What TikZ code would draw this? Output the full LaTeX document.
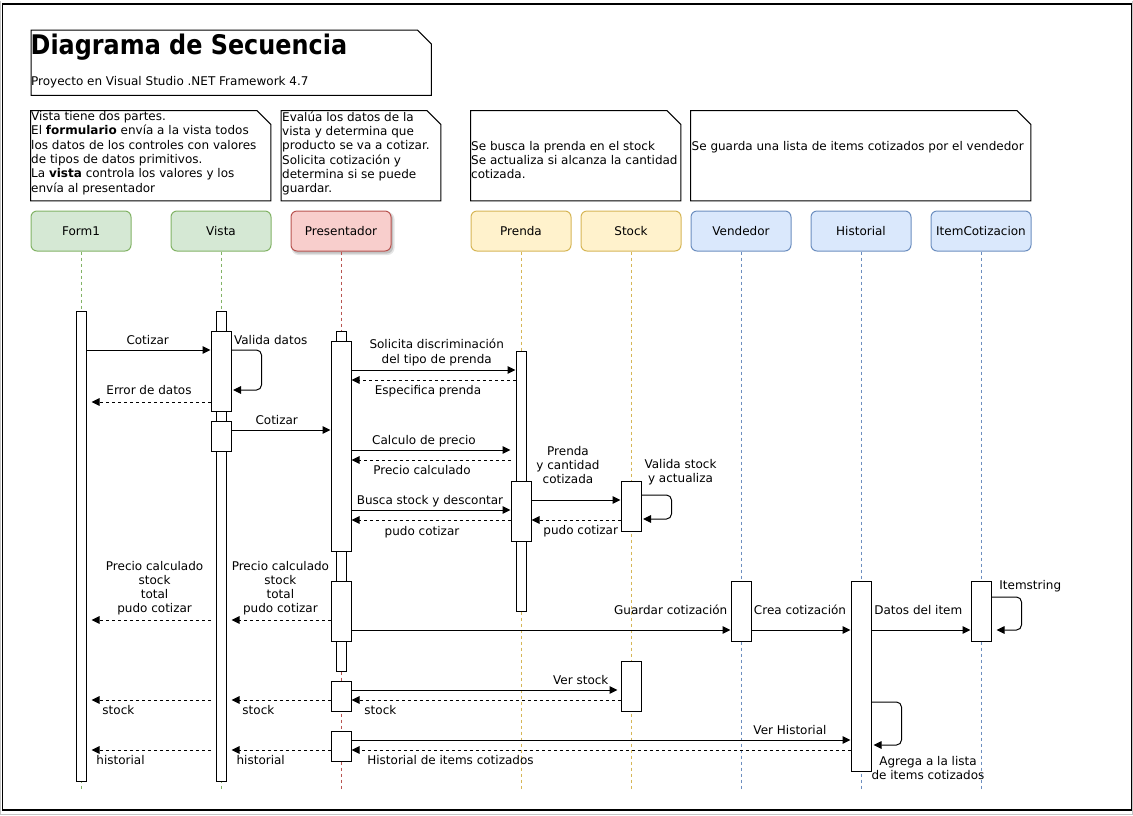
\documentclass[tikz,border=0pt]{standalone}
\usepackage{fontspec}
\setmainfont{DejaVu Sans}
\newfontfamily\titlefont[FakeStretch=0.885]{DejaVu Sans}
\usetikzlibrary{arrows.meta,calc}

\definecolor{greenfill}{HTML}{D5E8D4}
\definecolor{greenline}{HTML}{82B366}
\definecolor{redfill}{HTML}{F8CECC}
\definecolor{redline}{HTML}{B85450}
\definecolor{yellowfill}{HTML}{FFF2CC}
\definecolor{yellowline}{HTML}{D6B656}
\definecolor{bluefill}{HTML}{DAE8FC}
\definecolor{blueline}{HTML}{6C8EBF}

\tikzset{
  basetxt/.style={inner sep=0pt, font=\fontsize{12}{14.3}\selectfont, execute at begin node=\strut},
  lbltxt/.style={basetxt, align=center, anchor=north},
  notetext/.style={basetxt, align=left, anchor=north west},
  notebox/.style={inner sep=0pt, anchor=north west},
  noteline/.style={line width=1pt},
  hdbox/.style={draw, rounded corners=6pt, minimum width=100pt, minimum height=40pt,
    inner sep=0pt, anchor=north west, font=\fontsize{12}{14.3}\selectfont, line width=1pt},
  actbar/.style={draw, fill=white, line width=1pt, inner sep=0pt, anchor=north west},
  lifeln/.style={line width=0.8pt, dash pattern=on 3pt off 3pt},
  msgarr/.style={line width=1pt, -{Triangle[length=8pt,width=7.5pt]}},
  retarr/.style={msgarr, dash pattern=on 3pt off 3pt},
  selfarr/.style={msgarr, rounded corners=5pt},
}

\begin{document}
\begin{tikzpicture}[x=1pt, y=-1pt]
\useasboundingbox (0,0) rectangle (1133,815);

% outer frame
\draw[gray!45, line width=1pt] (0.5,0.5) -- (0.5,814) -- (1132.5,814) -- (1132.5,0.5);
\draw[line width=1.2pt] (2.6,4) rectangle (1131.2,810);

% title note
\node[notebox, minimum width=400pt, minimum height=65pt] (ttl) at (31,30) {};
\draw[noteline] (ttl.south west) -- (ttl.north west) -- ([xshift=-14pt]ttl.north east)
  -- ([yshift=-14pt]ttl.north east) -- (ttl.south east) -- cycle;
\node[anchor=base west, inner sep=0pt, font=\titlefont\bfseries\fontsize{27}{30}\selectfont]
  (ttltxt) at (30.5,54.5) {Diagrama de Secuencia};
\node[notetext] (subtxt) at (31,75.7) {Proyecto en Visual Studio .NET Framework 4.7};

% descriptive notes
\node[notebox, minimum width=240pt, minimum height=90pt] (nvista) at (30.5,110.5) {};
\node[notebox, minimum width=159.5pt, minimum height=90pt] (npres) at (281,110.5) {};
\node[notebox, minimum width=210pt, minimum height=90pt] (nprenda) at (470.5,110.5) {};
\node[notebox, minimum width=340pt, minimum height=90pt] (nvend) at (690.5,110.5) {};
\foreach \n in {nvista,npres,nprenda,nvend}{
  \draw[noteline] (\n.south west) -- (\n.north west) -- ([xshift=-14pt]\n.north east)
    -- ([yshift=-14pt]\n.north east) -- (\n.south east) -- cycle;
}
\node[notetext] (tvista) at (31,111.3) {Vista tiene dos partes.\\El \textbf{formulario} envía a la vista todos\\los datos de los controles con valores\\de tipos de datos primitivos.\\La \textbf{vista} controla los valores y los\\envía al presentador};
\node[notetext] (tpres) at (282,111.3) {Evalúa los datos de la\\vista y determina que\\producto se va a cotizar.\\Solicita cotización y\\determina si se puede\\guardar.};
\node[notetext] (tprenda) at (471,140.7) {Se busca la prenda en el stock\\Se actualiza si alcanza la cantidad\\cotizada.};
\node[notetext] (tvend) at (691.5,140.7) {Se guarda una lista de items cotizados por el vendedor};

% participant heads
\fill[black, opacity=0.10, rounded corners=7pt] (291.5,212) rectangle (394.5,255);
\fill[black, opacity=0.15, rounded corners=6pt] (292.5,213) rectangle (393,253.5);
\node[hdbox, fill=greenfill, draw=greenline] (f1) at (30.5,210.5) {Form1};
\node[hdbox, fill=greenfill, draw=greenline] (vi) at (170.5,210.5) {Vista};
\node[hdbox, fill=redfill, draw=redline] (pr) at (290.5,210.5) {Presentador};
\node[hdbox, fill=yellowfill, draw=yellowline] (pn) at (470.5,210.5) {Prenda};
\node[hdbox, fill=yellowfill, draw=yellowline] (st) at (580.5,210.5) {Stock};
\node[hdbox, fill=bluefill, draw=blueline] (ve) at (690.5,210.5) {Vendedor};
\node[hdbox, fill=bluefill, draw=blueline] (hi) at (810.5,210.5) {Historial};
\node[hdbox, fill=bluefill, draw=blueline] (it) at (930.5,210.5) {ItemCotizacion};

% lifelines
\draw[lifeln, greenline] (f1.south) -- (f1.south |- 0,790);
\draw[lifeln, greenline] (vi.south) -- (vi.south |- 0,790);
\draw[lifeln, redline] (pr.south) -- (pr.south |- 0,790);
\draw[lifeln, yellowline] (pn.south) -- (pn.south |- 0,790);
\draw[lifeln, yellowline] (st.south) -- (st.south |- 0,790);
\draw[lifeln, blueline] (ve.south) -- (ve.south |- 0,790);
\draw[lifeln, blueline] (hi.south) -- (hi.south |- 0,790);
\draw[lifeln, blueline] (it.south) -- (it.south |- 0,790);

% activation bars
\node[actbar, minimum width=10pt, minimum height=470pt] (f1bar) at (75.5,310.5) {};
\node[actbar, minimum width=10pt, minimum height=470pt] (vibar) at (215.5,310.5) {};
\node[actbar, minimum width=20pt, minimum height=80pt] (viactA) at (210.5,330.5) {};
\node[actbar, minimum width=20pt, minimum height=30pt] (viactB) at (210.5,420.5) {};
\node[actbar, minimum width=10pt, minimum height=340pt] (prbar) at (335.5,330.5) {};
\node[actbar, minimum width=20pt, minimum height=210pt] (pract1) at (330.5,340.5) {};
\node[actbar, minimum width=20pt, minimum height=60pt] (pract2) at (330.5,580.5) {};
\node[actbar, minimum width=20pt, minimum height=30pt] (pract3) at (330.5,680.5) {};
\node[actbar, minimum width=20pt, minimum height=30pt] (pract4) at (330.5,730.5) {};
\node[actbar, minimum width=10pt, minimum height=260pt] (pnbar) at (515.5,350.5) {};
\node[actbar, minimum width=20pt, minimum height=60pt] (pnact) at (510.5,480.5) {};
\node[actbar, minimum width=20pt, minimum height=50pt] (stact1) at (620.5,480.5) {};
\node[actbar, minimum width=20pt, minimum height=50pt] (stact2) at (620.5,660.5) {};
\node[actbar, minimum width=20pt, minimum height=60pt] (veact) at (730.5,580.5) {};
\node[actbar, minimum width=20pt, minimum height=190pt] (hiact) at (850.5,580.5) {};
\node[actbar, minimum width=20pt, minimum height=60pt] (itact) at (970.5,580.5) {};

% message end points just beside the bars
\coordinate (f1r) at ([xshift=5pt]f1bar.east);
\coordinate (vil) at ([xshift=-5pt]vibar.west);
\coordinate (vir) at ([xshift=5pt]vibar.east);
\coordinate (pnl) at ([xshift=-5pt]pnbar.west);
\coordinate (st2l) at ([xshift=-3pt]stact2.west);
\coordinate (viAr) at ([xshift=1.5pt]viactA.east);
\coordinate (st1r) at ([xshift=1.5pt]stact1.east);
\coordinate (hir) at ([xshift=2pt]hiact.east);
\coordinate (itr) at ([xshift=5pt]itact.east);

% validation of the form data
\draw[msgarr] (f1bar.east |- 0,350) -- (viactA.west |- 0,350);
\node[lbltxt] (lcot1) at (147.7,334.7) {Cotizar};
\draw[selfarr] (viactA.east |- 0,350) -- ++(30,0) |- (viAr |- 0,390);
\node[lbltxt] (lval) at (270.7,334.7) {Valida datos};
\draw[retarr] (viactA.west |- 0,402) -- (f1r |- 0,402);
\node[lbltxt] (lerr) at (149,384.7) {Error de datos};
\draw[msgarr] (viactB.east |- 0,430) -- (pract1.west |- 0,430);
\node[lbltxt] (lcot2) at (276.7,414.7) {Cotizar};

% presenter and garment
\draw[msgarr] (pract1.east |- 0,370) -- (pnbar.west |- 0,370);
\node[lbltxt] (lsol) at (436.7,339) {Solicita discriminación\\del tipo de prenda};
\draw[retarr] (pnbar.west |- 0,380) -- (pract1.east |- 0,380);
\node[lbltxt] (lesp) at (428,384.7) {Especifica prenda};
\draw[msgarr] (pract1.east |- 0,450) -- (pnl |- 0,450);
\node[lbltxt] (lcal) at (424,434) {Calculo de precio};
\draw[retarr] (pnl |- 0,460) -- (pract1.east |- 0,460);
\node[lbltxt] (lpre) at (422,464.7) {Precio calculado};
\draw[msgarr] (pract1.east |- 0,510) -- (pnact.west |- 0,510);
\node[lbltxt] (lbus) at (430,494) {Busca stock y descontar};
\draw[retarr] (pnact.west |- 0,520) -- (pract1.east |- 0,520);
\node[lbltxt] (lpud1) at (422,525) {pudo cotizar};

% garment and stock
\draw[msgarr] (pnact.east |- 0,500) -- (stact1.west |- 0,500);
\node[lbltxt] (lpren) at (568,445.7) {Prenda\\y cantidad\\cotizada};
\draw[selfarr] (stact1.east |- 0,495) -- ++(30,0) |- (st1r |- 0,519);
\node[lbltxt] (lvst) at (680.5,459) {Valida stock\\y actualiza};
\draw[retarr] (stact1.west |- 0,520) -- (pnact.east |- 0,520);
\node[lbltxt] (lpud2) at (580.7,524) {pudo cotizar};

% results back to the form
\draw[retarr] (pract2.west |- 0,620) -- (vir |- 0,620);
\node[lbltxt] (lres2) at (280.4,560.7) {Precio calculado\\stock\\total\\pudo cotizar};
\draw[retarr] (vil |- 0,620) -- (f1r |- 0,620);
\node[lbltxt] (lres1) at (154.6,560.7) {Precio calculado\\stock\\total\\pudo cotizar};

% saving the quotation
\draw[msgarr] (pract2.east |- 0,630) -- (veact.west |- 0,630);
\node[lbltxt] (lgua) at (670.7,604.7) {Guardar cotización};
\draw[msgarr] (veact.east |- 0,630) -- (hiact.west |- 0,630);
\node[lbltxt] (lcrea) at (800,604.7) {Crea cotización};
\draw[msgarr] (hiact.east |- 0,630) -- (itact.west |- 0,630);
\node[lbltxt] (ldat) at (918.3,604.7) {Datos del item};
\draw[selfarr] (itact.east |- 0,597) -- ++(30,0) |- (itr |- 0,630);
\node[lbltxt] (litem) at (1030.3,579.7) {Itemstring};

% stock query
\draw[msgarr] (pract3.east |- 0,690) -- (st2l |- 0,690);
\node[lbltxt] (lver) at (580.8,674.7) {Ver stock};
\draw[retarr] (stact2.west |- 0,700) -- (pract3.east |- 0,700);
\node[lbltxt] (lst3) at (380.4,704.7) {stock};
\draw[retarr] (pract3.west |- 0,700) -- (vir |- 0,700);
\node[lbltxt] (lst2) at (258.4,704.7) {stock};
\draw[retarr] (vil |- 0,700) -- (f1r |- 0,700);
\node[lbltxt] (lst1) at (118.4,704.7) {stock};

% history query
\draw[selfarr] (hiact.east |- 0,702) -- ++(30,0) |- (hir |- 0,745);
\node[lbltxt] (lagr) at (928,755.7) {Agrega a la lista\\de items cotizados};
\draw[msgarr] (pract4.east |- 0,740) -- (hiact.west |- 0,740);
\node[lbltxt] (lverh) at (790,724.7) {Ver Historial};
\draw[retarr] (hiact.west |- 0,750) -- (pract4.east |- 0,750);
\node[lbltxt] (lhis3) at (450.5,754.7) {Historial de items cotizados};
\draw[retarr] (pract4.west |- 0,750) -- (vir |- 0,750);
\node[lbltxt] (lhis2) at (260.7,754.7) {historial};
\draw[retarr] (vil |- 0,750) -- (f1r |- 0,750);
\node[lbltxt] (lhis1) at (120.5,754.7) {historial};
\end{tikzpicture}
\end{document}
